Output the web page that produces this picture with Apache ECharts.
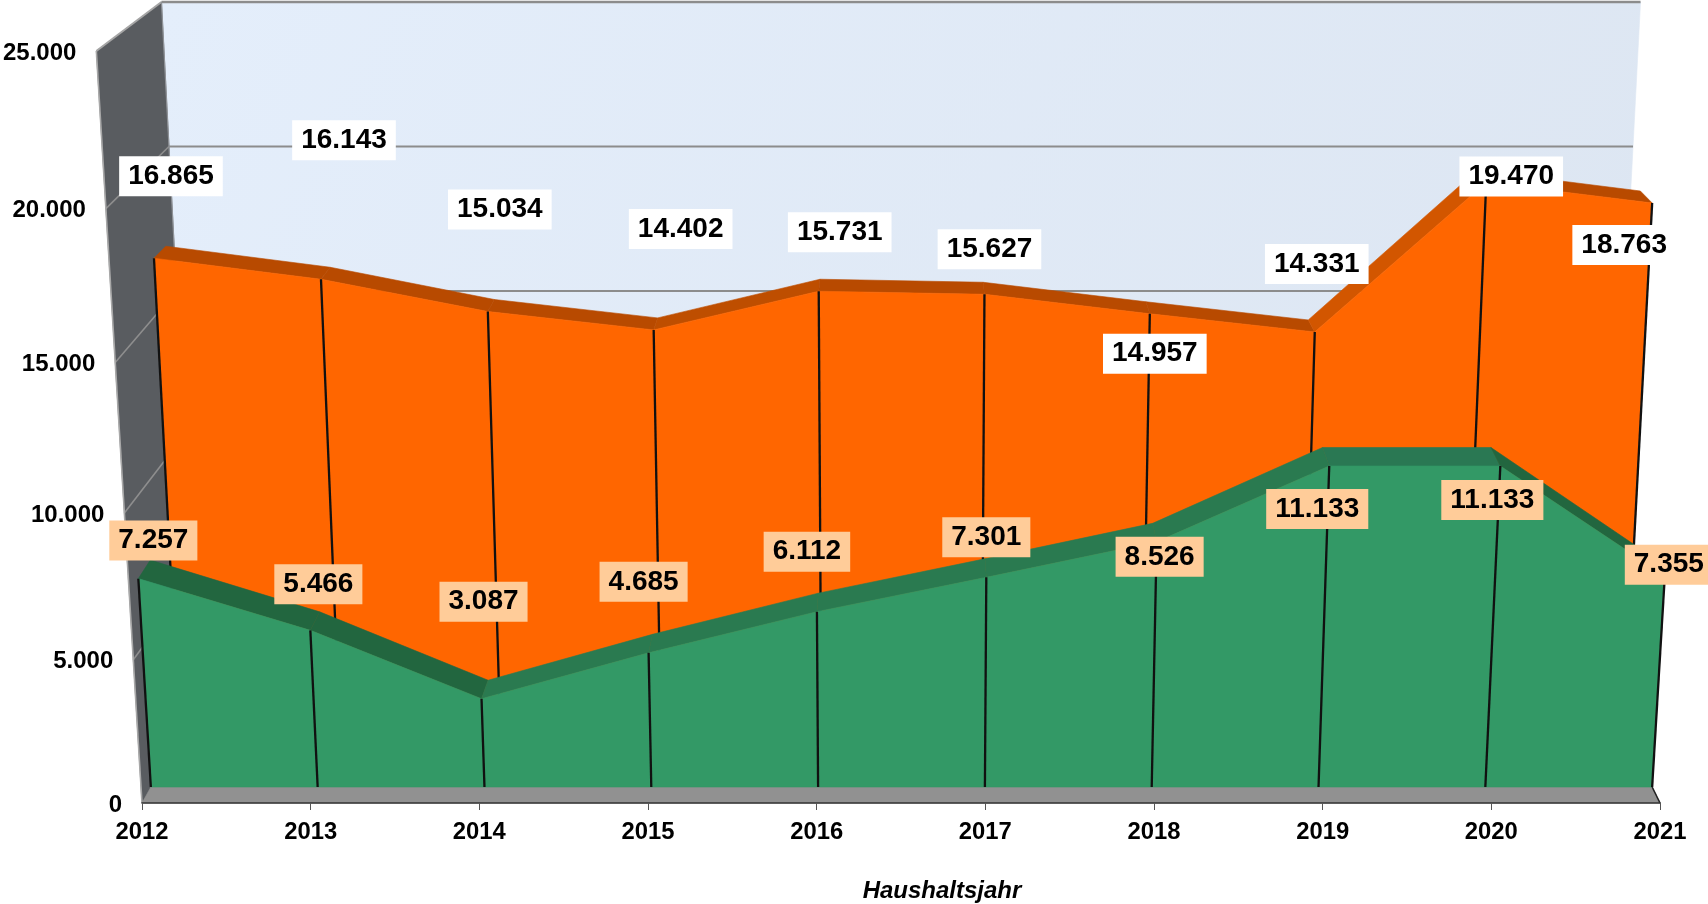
<!DOCTYPE html>
<html><head><meta charset="utf-8">
<style>html,body{margin:0;padding:0;background:#fff}#c{width:1708px;height:904px}</style>
<script src="https://cdn.jsdelivr.net/npm/echarts@6/dist/echarts.min.js"></script>
</head><body><div id="c"></div>
<script>
const years = ['2012','2013','2014','2015','2016','2017','2018','2019','2020','2021'];
const orangeValues = [16865,16143,15034,14402,15731,15627,14957,14331,19470,18763];
const greenValues = [7257,5466,3087,4685,6112,7301,8526,11133,11133,7355];
const yTicks = [0,5000,10000,15000,20000,25000];
const yMax = 25000;
const xAxisTitle = 'Haushaltsjahr';

// label placement relative to the projected point of each value
const orangeLabelOffsets = [[17,-82],[23,-139],[12,-102],[27,-101],[21,-59],[5,-45],[5,40],[2,-68],[25,-6],[-28,42]];
const greenLabelOffsets = [[15,-38],[8,-46],[2,-97],[-5,-71],[-10,-60],[0,-40],[3,15],[-12,43],[-8,34],[4,-11]];

// depth planes of the pseudo-3D box (base line, vertical scale, width scale)
const CX = 901;
const planes = {
  front:      {base:803,   a:.02828, b:7.2e-8, w:1,     k:8e-5,   dx:0},
  greenFront: {base:787,   a:.0285,  b:3e-8,   w:.989,  k:8e-5,   dx:.5},
  greenBack:  {base:768.5, a:.0285,  b:3e-8,   w:.9735, k:8e-5,   dx:.5},
  orangeFront:{base:749,   a:.0291,  b:0,      w:.9505, k:7.4e-5, dx:.6},
  orangeBack: {base:737,   a:.0291,  b:0,      w:.9355, k:7.4e-5, dx:.6},
  back:       {base:724.5, a:.0289,  b:0,      w:.9249, k:7.4e-5, dx:0}
};
function project(api, i, v, plane){
  const p = api.coord([i, 0]);
  const h = plane.a*v + plane.b*v*v;
  return [CX + plane.dx + (p[0]-CX)*plane.w*(1+plane.k*h), plane.base - h];
}
function poly(points, fill, extra){
  return Object.assign({type:'polygon', shape:{points}, style:{fill, stroke:fill, lineWidth:.6}}, extra||{});
}
function line(a, b, stroke, lineWidth){
  return {type:'line', shape:{x1:a[0],y1:a[1],x2:b[0],y2:b[1]}, style:{stroke, lineWidth}};
}
const bold = (s)=>`bold ${s}px "Liberation Sans", Arial, sans-serif`;

function renderFrame(params, api){
  const last = years.length-1, ch = [], P = planes;
  const a = (i,v,pl)=>project(api,i,v,pl);
  // back wall
  ch.push(poly([a(0,yMax,P.back),a(last,yMax,P.back),a(last,0,P.back),a(0,0,P.back)],
    new echarts.graphic.LinearGradient(0,0,1,1,[{offset:0,color:'#E4EEFB'},{offset:1,color:'#DCE5F1'}]),{}));
  // left wall
  ch.push(poly([a(0,yMax,P.front),a(0,yMax,P.back),a(0,0,P.back),a(0,0,P.front)],'#595C60'));
  yTicks.forEach(v=>{
    if(v===0) return;
    const isTop = v===yMax;
    ch.push(line(a(0,v,P.front),a(0,v,P.back),isTop?'#A6A6A6':'#8E8E8E',isTop?2:1.6));
    ch.push(line(a(0,v,P.back),a(last,v,P.back),'#8C8C8C',isTop?2.4:2));
  });
  ch.push(line(a(0,yMax,P.front),a(0,0,P.front),'#A8A8A8',1.6));
  ch.push(line(a(0,yMax,P.back),a(0,0,P.back),'#8F9297',1.2));
  // floor
  ch.push(poly([a(0,0,P.greenFront),a(last,0,P.greenFront),a(last,0,P.front),a(0,0,P.front)],'#919191'));
  ch.push(line(a(last,0,P.greenFront),a(last,0,P.front),'#222',1.6));
  return {type:'group', children:ch};
}
function renderBand(values, front, back, faceColor, topColor){
  return function(params, api){
    const i = params.dataIndex, v = values[i], ch = [];
    const top = project(api,i,v,front), base = project(api,i,0,front);
    if(i < values.length-1){
      const n = values[i+1];
      const slope = n - v;
      ch.push(poly([top, project(api,i+1,n,front), project(api,i+1,n,back), project(api,i,v,back)], topColor(slope)));
      ch.push(poly([top, project(api,i+1,n,front), project(api,i+1,0,front), base], faceColor));
    }
    return {type:'group', children:ch};
  };
}
function renderDrops(values, front){
  return function(params, api){
    const i = params.dataIndex, v = values[i];
    return line(project(api,i,v,front), project(api,i,0,front), '#111', 2.3);
  };
}
function renderLabels(values, plane, offsets, bg){
  return function(params, api){
    const i = params.dataIndex, p = project(api,i,values[i],plane), o = offsets[i];
    return {type:'text', x:p[0]+o[0], y:p[1]+o[1], style:{
      text: values[i].toLocaleString('de-DE'), fill:'#000', font:bold(28),
      align:'center', verticalAlign:'middle', backgroundColor:bg, padding:[6,9,6,9], borderRadius:0
    }};
  };
}
function renderYLabel(params, api){
  const v = yTicks[params.dataIndex], p = project(api,0,v,planes.front);
  return {type:'text', x:p[0]-20, y:p[1]+2, style:{
    text: v.toLocaleString('de-DE'), fill:'#000', font:bold(24), align:'right', verticalAlign:'middle'
  }};
}
const orangeTop = s => s>3000 ? '#D25600' : (s>0 ? '#BE4E00' : '#B84A00');
const greenTop = s => s===0 ? '#2A7853' : (s>0 ? '#2A7A50' : '#22663F');
const idx = arr => arr.map((v,i)=>[i,v]);
const custom = (data, renderItem, z) => ({type:'custom', coordinateSystem:'cartesian2d', data, renderItem, z, silent:true, clip:false, animation:false});

const chart = echarts.init(document.getElementById('c'), null, {renderer:'canvas'});
chart.setOption({
  animation:false,
  backgroundColor:'#fff',
  tooltip:{show:false},
  grid:{left:142, right:48, top:51, bottom:101, outerBoundsMode:'none'},
  xAxis:{
    type:'category', data:years, boundaryGap:false,
    name:xAxisTitle, nameLocation:'middle', nameGap:76,
    nameTextStyle:{color:'#000', fontFamily:'"Liberation Sans", Arial, sans-serif', fontWeight:'bold', fontStyle:'italic', fontSize:24, padding:[0,0,0,82]},
    axisLine:{show:true, lineStyle:{color:'#333', width:1.6}},
    axisTick:{show:true, alignWithLabel:true, length:7, lineStyle:{color:'#555', width:1}},
    axisLabel:{color:'#000', fontFamily:'"Liberation Sans", Arial, sans-serif', fontWeight:'bold', fontSize:23.8, margin:17, interval:0, showMinLabel:true, showMaxLabel:true},
    splitLine:{show:false}, z:20
  },
  yAxis:{type:'value', min:0, max:yMax, interval:5000, axisLabel:{show:false}, axisLine:{show:false}, axisTick:{show:false}, splitLine:{show:false}},
  series:[
    custom([[0,0]], renderFrame, 1),
    custom(idx(orangeValues), renderBand(orangeValues, planes.orangeFront, planes.orangeBack, '#FF6600', orangeTop), 2),
    custom(idx(orangeValues), renderDrops(orangeValues, planes.orangeFront), 3),
    custom(idx(greenValues), renderBand(greenValues, planes.greenFront, planes.greenBack, '#339966', greenTop), 4),
    custom(idx(greenValues), renderDrops(greenValues, planes.greenFront), 5),
    custom(idx(orangeValues), renderLabels(orangeValues, planes.orangeFront, orangeLabelOffsets, '#FFFFFF'), 6),
    custom(idx(greenValues), renderLabels(greenValues, planes.greenFront, greenLabelOffsets, '#FFCC99'), 7),
    custom(yTicks.map((v)=>[0,v]), renderYLabel, 8)
  ]
});
</script></body></html>
